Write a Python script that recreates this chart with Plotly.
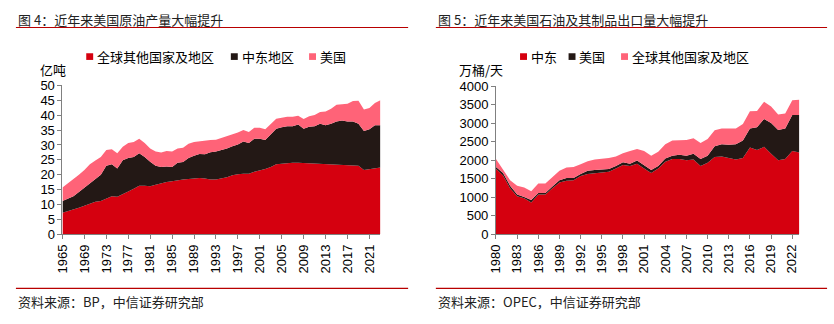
import plotly.graph_objects as go

# ---------------- Data: left chart (亿吨) ----------------
years_l = list(range(1965, 2024))
rest_l = [7.2, 7.7, 8.2, 8.9, 9.6, 10.3, 10.9, 11.2, 12.0, 12.8, 12.6, 13.4, 14.4, 15.3, 16.3, 16.3,
          16.1, 16.6, 17.1, 17.6, 17.8, 18.2, 18.4, 18.6, 18.7, 18.9, 18.7, 18.4, 18.4, 18.7, 19.2,
          19.8, 20.2, 20.3, 20.3, 21.0, 21.4, 21.9, 22.6, 23.5, 23.7, 23.9, 24.0, 24.0, 23.9, 23.9,
          23.7, 23.5, 23.5, 23.4, 23.4, 23.2, 23.2, 23.1, 23.0, 21.6, 21.9, 22.2, 22.4]
me_top_l = [11.2, 12.0, 12.8, 14.2, 15.7, 17.1, 18.7, 20.0, 23.0, 23.5, 22.1, 24.9, 25.6, 26.0, 27.2,
            26.0, 24.4, 23.0, 22.6, 22.8, 22.6, 24.0, 24.3, 25.6, 26.4, 27.0, 26.9, 27.6, 27.8, 28.3,
            28.8, 29.6, 30.2, 31.2, 30.7, 32.1, 32.1, 31.7, 33.7, 35.5, 36.0, 36.3, 36.3, 36.9, 35.5,
            36.1, 36.3, 37.1, 36.6, 37.1, 37.9, 38.2, 37.9, 37.9, 37.1, 34.7, 35.3, 36.6, 36.6]
total_l = [15.7, 17.1, 18.4, 20.0, 21.6, 23.5, 24.8, 26.0, 28.3, 28.6, 27.2, 29.4, 30.7, 31.0, 32.1,
           30.7, 28.8, 27.8, 27.5, 28.0, 27.8, 28.8, 29.1, 30.4, 31.0, 31.3, 31.5, 31.7, 31.8, 32.4,
           32.8, 33.4, 34.2, 35.0, 34.4, 35.8, 35.8, 35.3, 37.2, 38.8, 39.2, 39.5, 39.5, 39.8, 38.7,
           39.7, 40.1, 41.1, 41.3, 42.2, 43.5, 43.7, 43.9, 44.8, 44.9, 41.9, 42.4, 44.1, 45.0]
mideast_l = [round(a - b, 2) for a, b in zip(me_top_l, rest_l)]
us_l = [round(a - b, 2) for a, b in zip(total_l, me_top_l)]
ticks_l = list(range(1965, 2024, 4))

# ---------------- Data: right chart (万桶/天) ----------------
years_r = list(range(1980, 2024))
mideast_r = [1770, 1591, 1247, 1032, 972, 860, 1075, 1075, 1247, 1402, 1445, 1462, 1574, 1634, 1651,
             1677, 1694, 1780, 1875, 1849, 1909, 1780, 1660, 1780, 1961, 2038, 2038, 2004, 2021, 1849,
             1935, 2090, 2107, 2064, 2021, 2064, 2348, 2279, 2365, 2176, 2004, 2038, 2253, 2210]
us_top_r = [1823, 1660, 1316, 1075, 1006, 929, 1118, 1118, 1290, 1462, 1522, 1522, 1634, 1720, 1737,
            1746, 1763, 1849, 1952, 1909, 1995, 1866, 1737, 1849, 2047, 2124, 2150, 2124, 2176, 2038,
            2124, 2382, 2434, 2425, 2434, 2537, 2864, 2898, 3122, 3010, 2821, 2864, 3225, 3225]
total_r = [2038, 1763, 1462, 1316, 1264, 1161, 1376, 1376, 1548, 1720, 1806, 1823, 1892, 1978, 2021,
           2038, 2064, 2107, 2193, 2253, 2305, 2253, 2124, 2236, 2434, 2537, 2554, 2554, 2597, 2468,
           2580, 2812, 2864, 2864, 2864, 2984, 3328, 3337, 3586, 3457, 3242, 3268, 3629, 3638]
us_r = [a - b for a, b in zip(us_top_r, mideast_r)]
other_r = [a - b for a, b in zip(total_r, us_top_r)]
ticks_r = list(range(1980, 2024, 3))

RED = "#d5000f"
BLK = "#231815"
PINK = "#ff6378"
LINE_RED = "#b80000"
FONT = "Liberation Sans, Noto Sans CJK SC, sans-serif"
CJK = "Noto Sans CJK SC, sans-serif"

W, H = 834, 324

fig = go.Figure()

def add_area(x, y, color, xa, ya, sg):
    fig.add_trace(go.Scatter(x=x, y=y, mode="lines", stackgroup=sg, line=dict(width=0, color=color),
                             fillcolor=color, xaxis=xa, yaxis=ya, showlegend=False, hoverinfo="skip"))

add_area(years_l, rest_l, RED, "x", "y", "L")
add_area(years_l, mideast_l, BLK, "x", "y", "L")
add_area(years_l, us_l, PINK, "x", "y", "L")

add_area(years_r, mideast_r, RED, "x2", "y2", "R")
add_area(years_r, us_r, BLK, "x2", "y2", "R")
add_area(years_r, other_r, PINK, "x2", "y2", "R")

def px(x):
    return x / W

def py(y):
    return 1 - y / H

axis_common = dict(showgrid=False, zeroline=False, showline=True, linecolor="#808080", linewidth=1,
                   ticks="outside", tickcolor="#808080", ticklen=4,
                   tickfont=dict(family=FONT, size=13, color="#000"))

fig.update_layout(
    width=W, height=H, margin=dict(l=0, r=0, t=0, b=0),
    paper_bgcolor="white", plot_bgcolor="white", showlegend=False,
    xaxis=dict(domain=[px(55), px(376)], range=[1965, 2023], tickvals=ticks_l, tickangle=-90,
               anchor="y", **axis_common),
    yaxis=dict(domain=[py(238.3), py(82.3)], range=[0, 50], dtick=5, anchor="x", **axis_common),
    xaxis2=dict(domain=[px(492.7), px(799)], range=[1980, 2023], tickvals=ticks_r, tickangle=-90,
                anchor="y2", **axis_common),
    yaxis2=dict(domain=[py(238.3), py(83.3)], range=[0, 4000], dtick=500, anchor="x2", **axis_common),
)

shapes = []
annotations = []

def hline(x0, x1, y):
    shapes.append(dict(type="line", xref="paper", yref="paper", x0=px(x0), x1=px(x1), y0=py(y), y1=py(y),
                       line=dict(color=LINE_RED, width=1.2)))

def text(x, y, s, size=13, anchor="left", font=CJK, color="#222"):
    annotations.append(dict(xref="paper", yref="paper", x=px(x), y=py(y), text=s, showarrow=False,
                            xanchor=anchor, yanchor="middle", font=dict(family=font, size=size, color=color)))

def legend_item(x, y, color, s):
    shapes.append(dict(type="rect", xref="paper", yref="paper", x0=px(x), x1=px(x + 7), y0=py(y + 3.5),
                       y1=py(y - 3.5), fillcolor=color, line=dict(width=0)))
    text(x + 9, y, s, size=13, color="#000")

# Titles and rules
text(8, 13, "图 4：近年来美国原油产量大幅提升", size=13)
text(432, 13, "图 5：近年来美国石油及其制品出口量大幅提升", size=13)
hline(8, 404, 21.5)
hline(432, 827, 21.5)
hline(8, 404, 295)
hline(432, 827, 295)
text(8, 308.5, "资料来源：BP，中信证券研究部", size=13)
text(432, 308.5, "资料来源：OPEC，中信证券研究部", size=13)

# Legends
legend_item(79, 52, RED, "全球其他国家及地区")
legend_item(225, 52, BLK, "中东地区")
legend_item(304, 52, PINK, "美国")
legend_item(517, 52, RED, "中东")
legend_item(566, 52, BLK, "美国")
legend_item(619, 52, PINK, "全球其他国家及地区")

# Unit labels
text(30, 66, "亿吨", size=13, color="#000")
text(453, 66, "万桶/天", size=13, color="#000")

fig.update_layout(shapes=shapes, annotations=annotations)
fig.write_html("out.html")
